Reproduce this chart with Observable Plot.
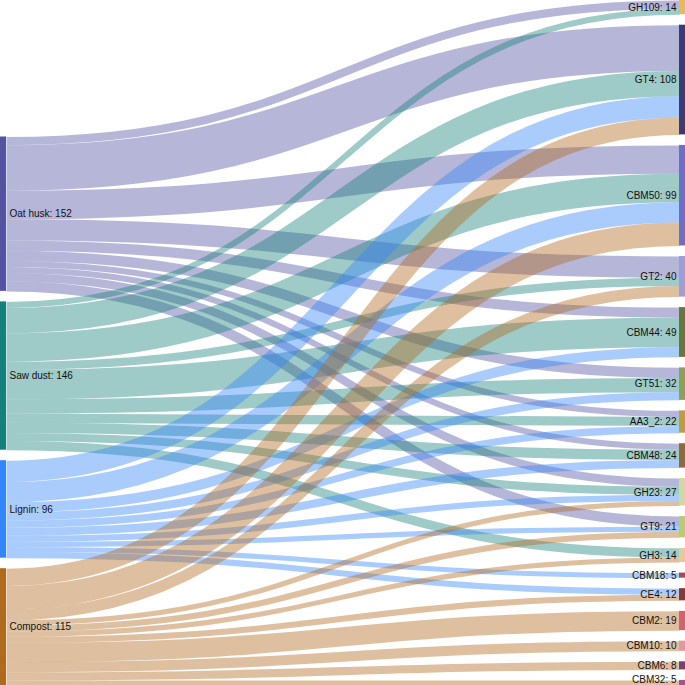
<!DOCTYPE html>
<html>
<head>
<meta charset="utf-8">
<script src="https://cdn.jsdelivr.net/npm/d3@7"></script>
<script src="https://cdn.jsdelivr.net/npm/@observablehq/plot@0.6"></script>
<style>
  html, body { margin: 0; padding: 0; background: #fff; }
  #chart svg { display: block; }
</style>
</head>
<body>
<div id="chart"></div>
<script>
// ---- data ----
const sourceNames = ["Oat husk", "Saw dust", "Lignin", "Compost"];
const targetNames = ["GH109", "GT4", "CBM50", "GT2", "CBM44", "GT51", "AA3_2", "CBM48",
  "GH23", "GT9", "GH3", "CBM18", "CE4", "CBM2", "CBM10", "CBM6", "CBM32"];
// flow from each source into each target (same order as targetNames)
const oatHusk = [8, 45, 28, 21, 10, 10, 6, 6, 8, 10, 0, 0, 0, 0, 0, 0, 0];
const sawDust = [6, 25, 28, 8, 29, 14, 9, 10, 8, 0, 9, 0, 0, 0, 0, 0, 0];
const lignin  = [0, 21, 20, 0, 10, 8, 7, 8, 6, 5, 0, 5, 6, 0, 0, 0, 0];
const compost = [0, 17, 23, 11, 0, 0, 0, 0, 5, 6, 5, 0, 6, 19, 10, 8, 5];

// ---- styles ----
const sourceColors = ["#5254a3", "#17807b", "#3586fb", "#b06a1f"];
const targetColors = ["#e7ba52", "#393b79", "#6b6ecf", "#9c9ede", "#637939", "#8ca252",
  "#bd9e39", "#8c6d31", "#cedb9c", "#b5cf6b", "#e7cb94", "#ad494a", "#843c39",
  "#d6616b", "#e7969c", "#7b4173", "#a55194"];

// ---- sankey layout (two columns) ----
const W = 685, H = 685, nodeWidth = 6, nodePadding = 10.5, fontSize = 10;
const rows = [oatHusk, sawDust, lignin, compost];
const sourceTotals = rows.map(r => d3.sum(r));
const targetTotals = targetNames.map((_, j) => d3.sum(rows, r => r[j]));
const ky = Math.min(
  (H - (sourceNames.length - 1) * nodePadding) / d3.sum(sourceTotals),
  (H - (targetNames.length - 1) * nodePadding) / d3.sum(targetTotals)
);
function stack(totals) {
  const extent = d3.sum(totals) * ky + (totals.length - 1) * nodePadding;
  let y = H - extent;
  return totals.map(v => { const y0 = y, y1 = y + v * ky; y = y1 + nodePadding; return {y0, y1}; });
}
const srcPos = stack(sourceTotals);
const tgtPos = stack(targetTotals);

const nodes = [
  ...sourceNames.map((name, i) => ({name, value: sourceTotals[i], side: "left",
    x0: 0, x1: nodeWidth, ...srcPos[i], color: sourceColors[i]})),
  ...targetNames.map((name, j) => ({name, value: targetTotals[j], side: "right",
    x0: W - nodeWidth, x1: W, ...tgtPos[j], color: targetColors[j]}))
];

const links = [];
const srcOffset = sourceNames.map(() => 0);
const tgtOffset = targetNames.map(() => 0);
const srcY = new Map(), tgtY = new Map();
// offsets at sources follow target order; at targets follow source order
for (let i = 0; i < rows.length; i++) {
  for (let j = 0; j < targetNames.length; j++) {
    const v = rows[i][j]; if (!v) continue;
    const w = v * ky;
    srcY.set(i + "-" + j, srcPos[i].y0 + srcOffset[i] + w / 2);
    srcOffset[i] += w;
  }
}
for (let j = 0; j < targetNames.length; j++) {
  for (let i = 0; i < rows.length; i++) {
    const v = rows[i][j]; if (!v) continue;
    const w = v * ky;
    tgtY.set(i + "-" + j, tgtPos[j].y0 + tgtOffset[j] + w / 2);
    tgtOffset[j] += w;
  }
}
rows.forEach((r, i) => r.forEach((v, j) => {
  if (!v) return;
  links.push({
    source: sourceNames[i], target: targetNames[j], value: v,
    sx: nodeWidth, tx: W - nodeWidth,
    sy: srcY.get(i + "-" + j), ty: tgtY.get(i + "-" + j),
    width: v * ky, color: sourceColors[i]
  });
}));

const labelY = d => Math.min(Math.max((d.y0 + d.y1) / 2, fontSize * 0.6), H - fontSize * 0.6);

const chart = Plot.plot({
  width: W,
  height: H,
  margin: 0,
  x: {domain: [0, W], range: [0, W], axis: null},
  y: {domain: [0, H], range: [0, H], axis: null},
  color: {type: "identity"},
  style: {fontFamily: "'Liberation Sans', Arial, Helvetica, sans-serif", fontSize: fontSize + "px", background: "#fff"},
  marks: [
    Plot.link(links, {
      x1: "sx", y1: "sy", x2: "tx", y2: "ty",
      curve: "bump-x", stroke: "color", strokeWidth: "width", strokeOpacity: 0.42
    }),
    Plot.rect(nodes, {x1: "x0", x2: "x1", y1: "y0", y2: "y1", fill: "color"}),
    Plot.text(nodes.filter(d => d.side === "left"), {
      x: d => d.x1 + 3, y: labelY,
      text: d => `${d.name}: ${d.value}`, textAnchor: "start", fill: "#111", fontSize
    }),
    Plot.text(nodes.filter(d => d.side === "right"), {
      x: d => d.x0 - 3, y: labelY,
      text: d => `${d.name}: ${d.value}`, textAnchor: "end", fill: "#111", fontSize
    })
  ]
});
document.getElementById("chart").appendChild(chart);
</script>
</body>
</html>
